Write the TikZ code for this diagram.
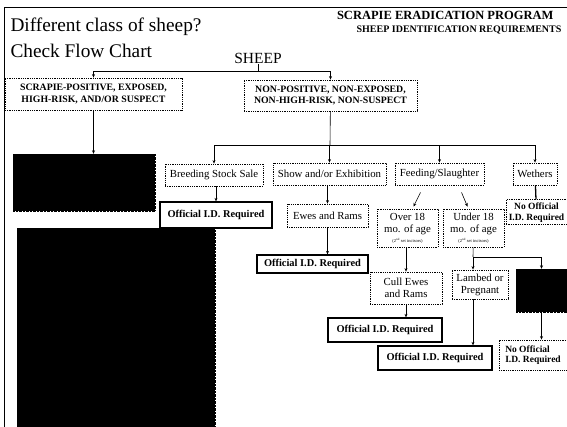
\documentclass[tikz,border=0pt]{standalone}
\usepackage{fontspec}
\setmainfont{Liberation Serif}
\usetikzlibrary{arrows.meta}
\tikzset{
  catbox/.style={draw,densely dotted,thick,align=center,inner sep=1pt,font=\fontsize{10.8}{12}\selectfont},
  capbox/.style={catbox,font=\bfseries\fontsize{9.8}{11.5}\selectfont},
  idbox/.style={draw,line width=1.3pt,align=center,inner sep=1pt,font=\bfseries\fontsize{10.4}{11.5}\selectfont},
  blackbox/.style={fill=black,draw=black,densely dotted,inner sep=0pt},
  link/.style={-{Stealth[length=3.5pt,width=3pt]},semithick},
}

\begin{document}
\begin{tikzpicture}[x=1pt,y=-1pt]
\useasboundingbox (0,0) rectangle (567,427);
% Frame
\draw[semithick] (4,427) -- (4,7) -- (567,7);
% Titles
\node[anchor=west,font=\fontsize{19.3}{21}\selectfont] (q1) at (7,27) {Different class of sheep?};
\node[anchor=west,font=\fontsize{19.3}{21}\selectfont] (q2) at (7,51) {Check Flow Chart};
\node[anchor=east,font=\bfseries\fontsize{12.5}{14}\selectfont] (prog) at (557,15) {SCRAPIE ERADICATION PROGRAM};
\node[anchor=east,font=\bfseries\fontsize{10}{12}\selectfont] (req) at (565,30) {SHEEP IDENTIFICATION REQUIREMENTS};
\node[font=\fontsize{15.5}{17}\selectfont,inner sep=1pt] (sheep) at (258,58) {SHEEP};
% First split
\node[capbox,minimum width=177,minimum height=32] (scr) at (93.5,94) {SCRAPIE-POSITIVE, EXPOSED,\\HIGH-RISK, AND/OR SUSPECT};
\node[capbox,minimum width=173,minimum height=31] (nonpos) at (330.5,95.5) {NON-POSITIVE, NON-EXPOSED,\\NON-HIGH-RISK, NON-SUSPECT};
\coordinate (j1) at (258,71);
\draw[semithick] (sheep) -- (j1);
\draw[link] (j1) -| (scr);
\draw[link] (j1) -| (nonpos);
% Blacked out parts
\node[blackbox,minimum width=142,minimum height=57] (blk1) at (84,182.5) {};
\node[blackbox,minimum width=198,minimum height=199] (blk2) at (116,327.5) {};
\node[blackbox,minimum width=51,minimum height=43] (blk3) at (541.5,290.5) {};
\draw[link] (scr.south) -- (scr.south |- blk1.north);
% Use classes
\node[catbox,minimum width=98,minimum height=22] (breed) at (214,175) {Breeding Stock Sale};
\node[catbox,minimum width=113,minimum height=22] (show) at (329.5,174) {Show and/or Exhibition};
\node[catbox,minimum width=89,minimum height=22] (feed) at (439.5,174) {Feeding/Slaughter};
\node[catbox,minimum width=44,minimum height=22] (weth) at (535,174) {Wethers};
\coordinate (j2) at (330,145);
\draw[semithick] (nonpos) -- (j2);
\foreach \b in {breed,show,feed,weth} {
  \draw[link] (j2) -| (\b);
}
% Second level
\node[idbox,minimum width=112,minimum height=26] (offbreed) at (216,215) {Official I.D. Required};
\node[catbox,minimum width=81,minimum height=23] (ewes) at (327.5,215.5) {Ewes and Rams};
\node[catbox,minimum width=61,minimum height=38] (over) at (407.5,228) {Over 18\\mo. of age\\[-2pt]{\fontsize{4.5}{5}\selectfont (2\textsuperscript{nd} set incisors)}};
\node[catbox,minimum width=61,minimum height=38] (under) at (473.5,228) {Under 18\\mo. of age\\[-2pt]{\fontsize{4.5}{5}\selectfont (2\textsuperscript{nd} set incisors)}};
\node[idbox,densely dotted,line width=1pt,font=\bfseries\fontsize{9.5}{10.5}\selectfont,minimum width=61,minimum height=25] (wethno) at (536.5,212.5) {No Official\\I.D. Required};
\draw[link] (breed.south -| offbreed) -- (offbreed);
\draw[link] (show.south -| ewes) -- (ewes);
\draw[line width=1.3pt] (weth) -- (wethno);
\draw[link] ([xshift=-19pt,yshift=-7pt]feed.south) -- ([xshift=6pt,yshift=2pt]over.north);
\draw[link] ([xshift=22pt,yshift=-7pt]feed.south) -- ([xshift=-6pt,yshift=2pt]under.north);
% Third level
\node[idbox,minimum width=111,minimum height=18] (offshow) at (312.5,264) {Official I.D. Required};
\node[catbox,minimum width=72,minimum height=32] (cull) at (406,288) {Cull Ewes\\and Rams};
\node[catbox,minimum width=56,minimum height=29] (lambed) at (480,284.5) {Lambed or\\Pregnant};
\draw[link] (ewes.south) -- (ewes.south |- offshow.north);
\draw[link] (cull.north |- over.south) -- (cull);
\coordinate (j3) at (473,257);
\draw[semithick] (under) -- (j3);
\draw[link] (j3) -- (j3 |- lambed.north);
\draw[link] (j3) -| (blk3);
% Last level
\node[idbox,minimum width=114,minimum height=24] (offcull) at (385,330) {Official I.D. Required};
\node[catbox,font=\bfseries\fontsize{9.5}{10.5}\selectfont,align=left,minimum width=68,minimum height=30] (noid) at (533,355) {No Official\\I.D. Required};
\node[idbox,minimum width=114,minimum height=24] (offlamb) at (435,358) {Official I.D. Required};
\draw[link] (cull) -- (cull |- offcull.north);
\draw[link] (j3 |- lambed.south) -- (j3 |- offlamb.north);
\draw[link] (blk3) -- (blk3 |- noid.north);
\end{tikzpicture}
\end{document}
